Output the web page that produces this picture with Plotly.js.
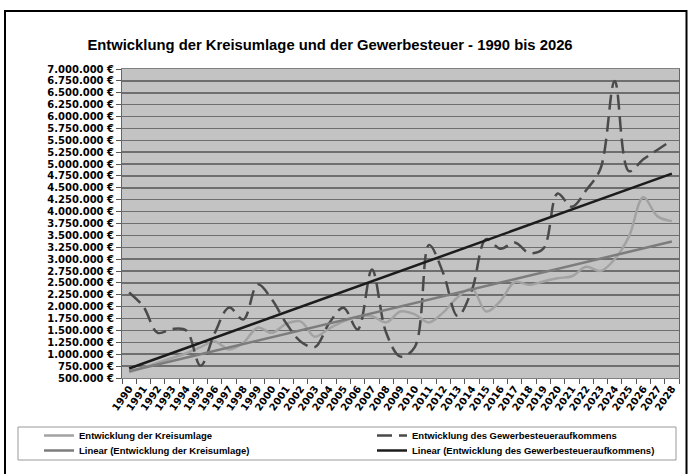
<!DOCTYPE html>
<html>
<head>
<meta charset="utf-8">
<script src="https://cdn.plot.ly/plotly-3.0.1.min.js"></script>
<style>html,body{margin:0;padding:0;background:#fff;}#chart{width:688px;height:474px;}</style>
</head>
<body>
<div id="chart"></div>
<script>
const years = ['1990','1991','1992','1993','1994','1995','1996','1997','1998','1999',
  '2000','2001','2002','2003','2004','2005','2006','2007','2008','2009',
  '2010','2011','2012','2013','2014','2015','2016','2017','2018','2019',
  '2020','2021','2022','2023','2024','2025','2026','2027','2028'];

const kreisumlage = [620000,720000,820000,920000,1020000,1150000,1270000,1100000,1240000,1560000,
  1450000,1640000,1690000,1370000,1540000,1690000,1790000,1800000,1670000,1900000,
  1840000,1670000,1880000,2200000,2380000,1900000,2120000,2520000,2460000,2530000,
  2600000,2640000,2840000,2750000,3000000,3480000,4300000,3900000,3800000];

const gewerbesteuer = [2300000,2000000,1450000,1530000,1500000,760000,1450000,1980000,1730000,2470000,
  2150000,1650000,1270000,1150000,1650000,1980000,1520000,2780000,1450000,950000,
  1150000,3300000,2700000,1800000,2350000,3420000,3220000,3350000,3130000,3220000,
  4380000,4100000,4450000,4900000,6750000,4850000,5100000,5300000,5500000];

const trendYears = ['1990','2028'];
const trendKreisumlage = [640000, 3370000];
const trendGewerbesteuer = [700000, 4800000];

const names = ['Entwicklung der Kreisumlage','Entwicklung des Gewerbesteueraufkommens',
  'Linear (Entwicklung der Kreisumlage)','Linear (Entwicklung des Gewerbesteueraufkommens)'];

const traces = [
  {x: years, y: kreisumlage, name: names[0], type: 'scatter', mode: 'lines', legend: 'legend',
   line: {color: '#a2a2a2', width: 2.5, shape: 'spline', smoothing: 1}},
  {x: years, y: gewerbesteuer, name: names[1], type: 'scatter', mode: 'lines', legend: 'legend2',
   line: {color: '#4a4a4a', width: 2.5, shape: 'spline', smoothing: 1, dash: '15px,7px'}},
  {x: trendYears, y: trendKreisumlage, name: names[2], type: 'scatter', mode: 'lines', legend: 'legend3',
   line: {color: '#7c7c7c', width: 2.5}},
  {x: trendYears, y: trendGewerbesteuer, name: names[3], type: 'scatter', mode: 'lines', legend: 'legend4',
   line: {color: '#1c1c1c', width: 2.5}}
];

const L = 122, R = 679, T = 69, B = 378;
const px2x = p => (p - L) / (R - L);
const px2y = p => (B - p) / (B - T);

const legendFont = {family: 'Liberation Sans, Arial, sans-serif', size: 9.5, weight: 'bold'};
const tickFont = {family: 'DejaVu Sans, Liberation Sans, sans-serif', size: 10, weight: 'bold'};
const mkLegend = (xp, yp) => ({orientation: 'h', x: px2x(xp), xanchor: 'left', y: px2y(yp), yanchor: 'top',
  font: legendFont, bgcolor: 'rgba(0,0,0,0)', borderwidth: 0});

const layout = {
  width: 688, height: 474,
  margin: {l: L, r: 688 - R, t: T, b: 474 - B, autoexpand: false},
  paper_bgcolor: '#ffffff',
  plot_bgcolor: '#c3c3c3',
  separators: ',.',
  font: {family: 'Liberation Sans, Arial, sans-serif', color: '#000000'},
  showlegend: true,
  title: {text: 'Entwicklung der Kreisumlage und der Gewerbesteuer - 1990 bis 2026',
    font: {size: 14.8, weight: 'bold', color: '#000'},
    xref: 'container', x: 330 / 688, xanchor: 'center',
    yref: 'container', y: 1 - 45 / 474, yanchor: 'middle'},
  xaxis: {type: 'category', categoryorder: 'array', categoryarray: years,
    range: [-0.5, 38.5], tickmode: 'linear', tick0: 0, dtick: 1, tickson: 'boundaries',
    ticks: 'outside', ticklen: 5, tickcolor: '#555', tickwidth: 1, tickangle: -55,
    tickfont: tickFont, showgrid: false, showline: true,
    linecolor: '#808080', linewidth: 1, mirror: true, zeroline: false, fixedrange: true},
  yaxis: {range: [500000, 7000000], tick0: 0, dtick: 250000, tickformat: ',.0f', ticksuffix: ' €',
    ticks: 'outside', ticklen: 5, tickcolor: '#555', tickwidth: 1,
    showgrid: true, gridcolor: '#6e6e6e', gridwidth: 1.5,
    showline: true, linecolor: '#666', linewidth: 1, mirror: true, zeroline: false,
    tickfont: tickFont, fixedrange: true},
  legend: mkLegend(39, 421),
  legend2: mkLegend(372, 421),
  legend3: mkLegend(39, 436),
  legend4: mkLegend(372, 436),
  shapes: [
    {type: 'rect', xref: 'paper', yref: 'paper', x0: px2x(18), x1: px2x(676), y0: px2y(427), y1: px2y(460),
     line: {color: '#999999', width: 1}, fillcolor: 'rgba(0,0,0,0)'},
    {type: 'rect', xref: 'paper', yref: 'paper', x0: px2x(5), x1: px2x(686.5), y0: px2y(11), y1: px2y(480),
     line: {color: '#000000', width: 2}, fillcolor: 'rgba(0,0,0,0)'}
  ]
};

Plotly.newPlot('chart', traces, layout, {displayModeBar: false, staticPlot: true});
</script>
</body>
</html>
